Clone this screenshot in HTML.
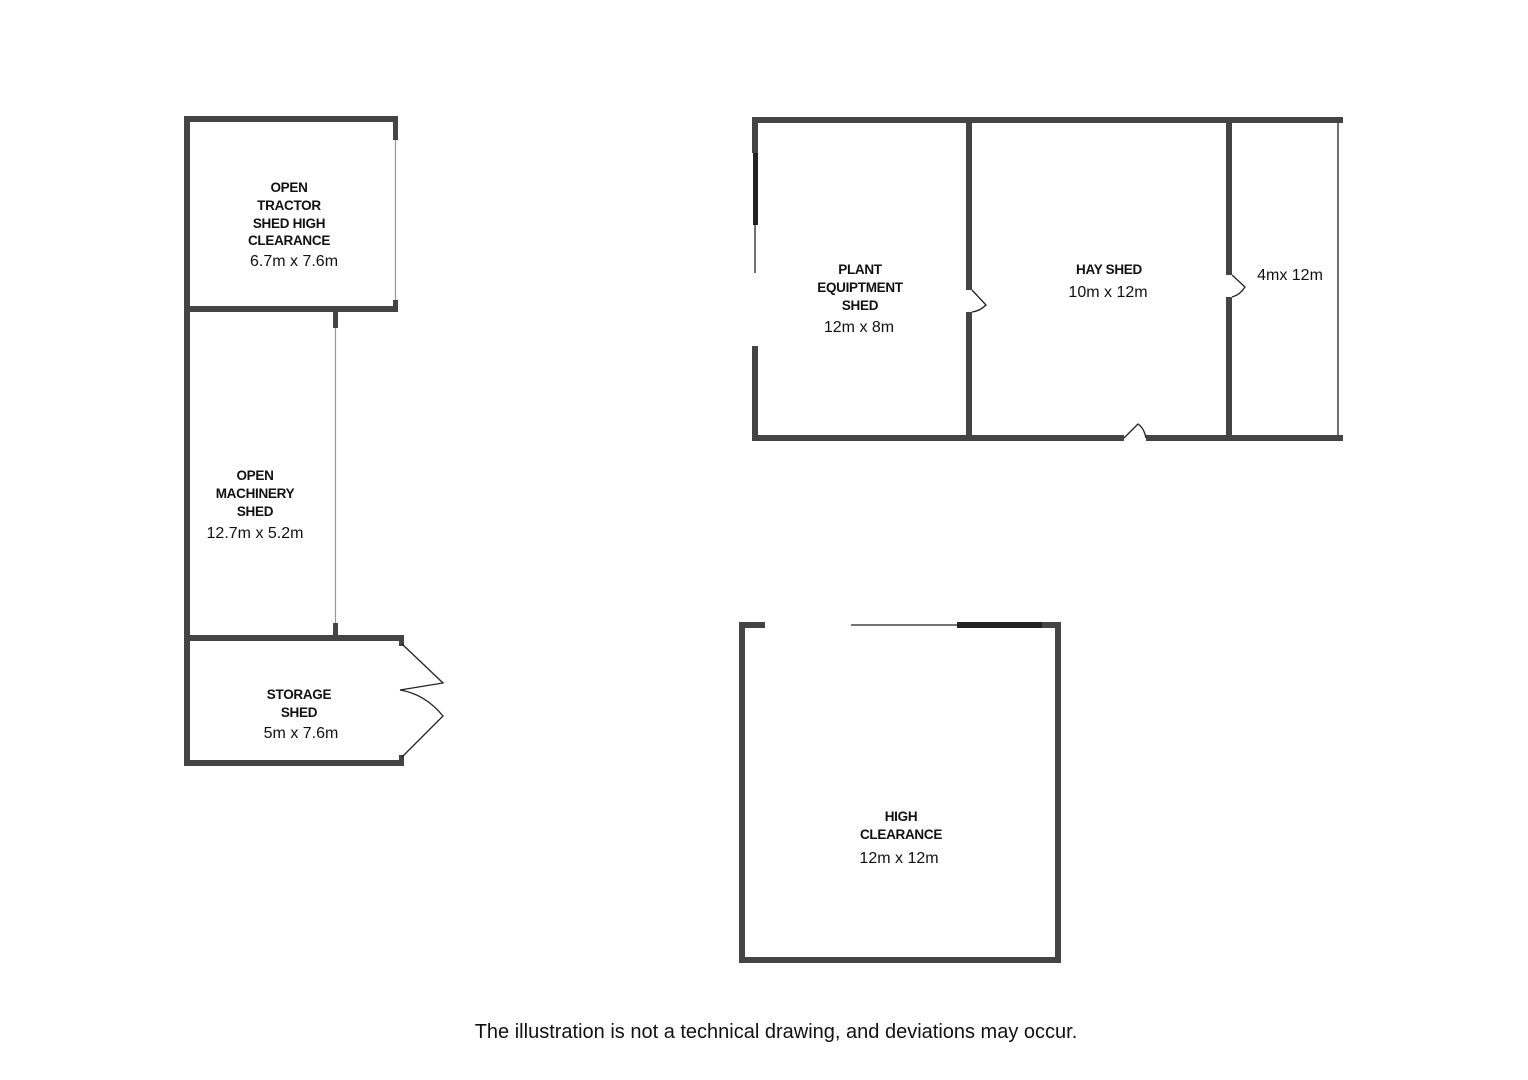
<!DOCTYPE html>
<html><head><meta charset="utf-8"><style>
html,body{margin:0;padding:0;background:#fff}
svg{display:block}
text{font-family:"Liberation Sans",sans-serif;fill:#111;text-anchor:middle}
.c{font-size:13.5px;font-weight:bold;letter-spacing:-0.3px}
.d{font-size:16px}
</style></head><body>
<svg width="1528" height="1080" viewBox="0 0 1528 1080" xmlns="http://www.w3.org/2000/svg">
<g fill="#444">
<!-- left building -->
<rect x="184" y="116" width="6" height="650"/>
<rect x="184" y="116" width="214" height="6"/>
<rect x="393" y="116" width="5" height="24"/>
<rect x="393" y="300" width="5" height="12"/>
<rect x="184" y="306" width="214" height="6"/>
<rect x="333" y="312" width="5" height="16"/>
<rect x="333" y="623" width="5" height="14"/>
<rect x="184" y="635" width="220" height="6"/>
<rect x="184" y="760" width="220" height="6"/>
<rect x="399" y="641" width="5" height="5"/>
<rect x="399" y="755" width="5" height="5"/>
<!-- right building -->
<rect x="752" y="117" width="591" height="6"/>
<rect x="752" y="117" width="6" height="36"/>
<rect x="752" y="346" width="6" height="95"/>
<rect x="752" y="435" width="372" height="6"/>
<rect x="1146" y="435" width="197" height="6"/>
<rect x="966" y="117" width="6" height="173"/>
<rect x="966" y="312" width="6" height="129"/>
<rect x="1226" y="117" width="6" height="158"/>
<rect x="1226" y="297" width="6" height="144"/>
<!-- bottom building -->
<rect x="739" y="622" width="6" height="341"/>
<rect x="739" y="622" width="26" height="6"/>
<rect x="1055" y="622" width="6" height="341"/>
<rect x="1040" y="622" width="21" height="6"/>
<rect x="739" y="957" width="322" height="6"/>
</g>
<g fill="#222"><rect x="753" y="153" width="5" height="72"/><rect x="957" y="622" width="85" height="6"/></g>
<g stroke="#999" stroke-width="1.2" fill="none">
<line x1="395.5" y1="140" x2="395.5" y2="300"/>
<line x1="335.5" y1="328" x2="335.5" y2="623"/>
</g>
<g stroke="#222" stroke-width="1.3" fill="none">
<line x1="1338" y1="123" x2="1338" y2="435"/>
<line x1="755" y1="225" x2="755" y2="273"/>
<line x1="851" y1="625" x2="957" y2="625"/>
<path d="M402 644 L443 683 Q425 686 400 690"/>
<path d="M402 757 L443 716 Q425 694 400 690"/>
<path d="M972 290 L986 305 Q980 311 972 312"/>
<path d="M1232 275 L1245 287 Q1240 295 1232 297"/>
<path d="M1124 438 L1138 424 Q1144 428 1146 438"/>
</g>
<text class="c" x="289" y="192">OPEN</text>
<text class="c" x="289" y="210">TRACTOR</text>
<text class="c" x="289" y="228">SHED HIGH</text>
<text class="c" x="289" y="245">CLEARANCE</text>
<text class="d" x="294" y="266">6.7m x 7.6m</text>
<text class="c" x="255" y="480">OPEN</text>
<text class="c" x="255" y="498">MACHINERY</text>
<text class="c" x="255" y="516">SHED</text>
<text class="d" x="255" y="538">12.7m x 5.2m</text>
<text class="c" x="299" y="699">STORAGE</text>
<text class="c" x="299" y="717">SHED</text>
<text class="d" x="301" y="738">5m x 7.6m</text>
<text class="c" x="860" y="274">PLANT</text>
<text class="c" x="860" y="292">EQUIPTMENT</text>
<text class="c" x="860" y="310">SHED</text>
<text class="d" x="859" y="332">12m x 8m</text>
<text class="c" x="1109" y="274">HAY SHED</text>
<text class="d" x="1108" y="297">10m x 12m</text>
<text class="d" x="1290" y="280">4mx 12m</text>
<text class="c" x="901" y="821">HIGH</text>
<text class="c" x="901" y="839">CLEARANCE</text>
<text class="d" x="899" y="863">12m x 12m</text>
<text x="776" y="1038" style="font-size:20px">The illustration is not a technical drawing, and deviations may occur.</text>
</svg>
</body></html>
